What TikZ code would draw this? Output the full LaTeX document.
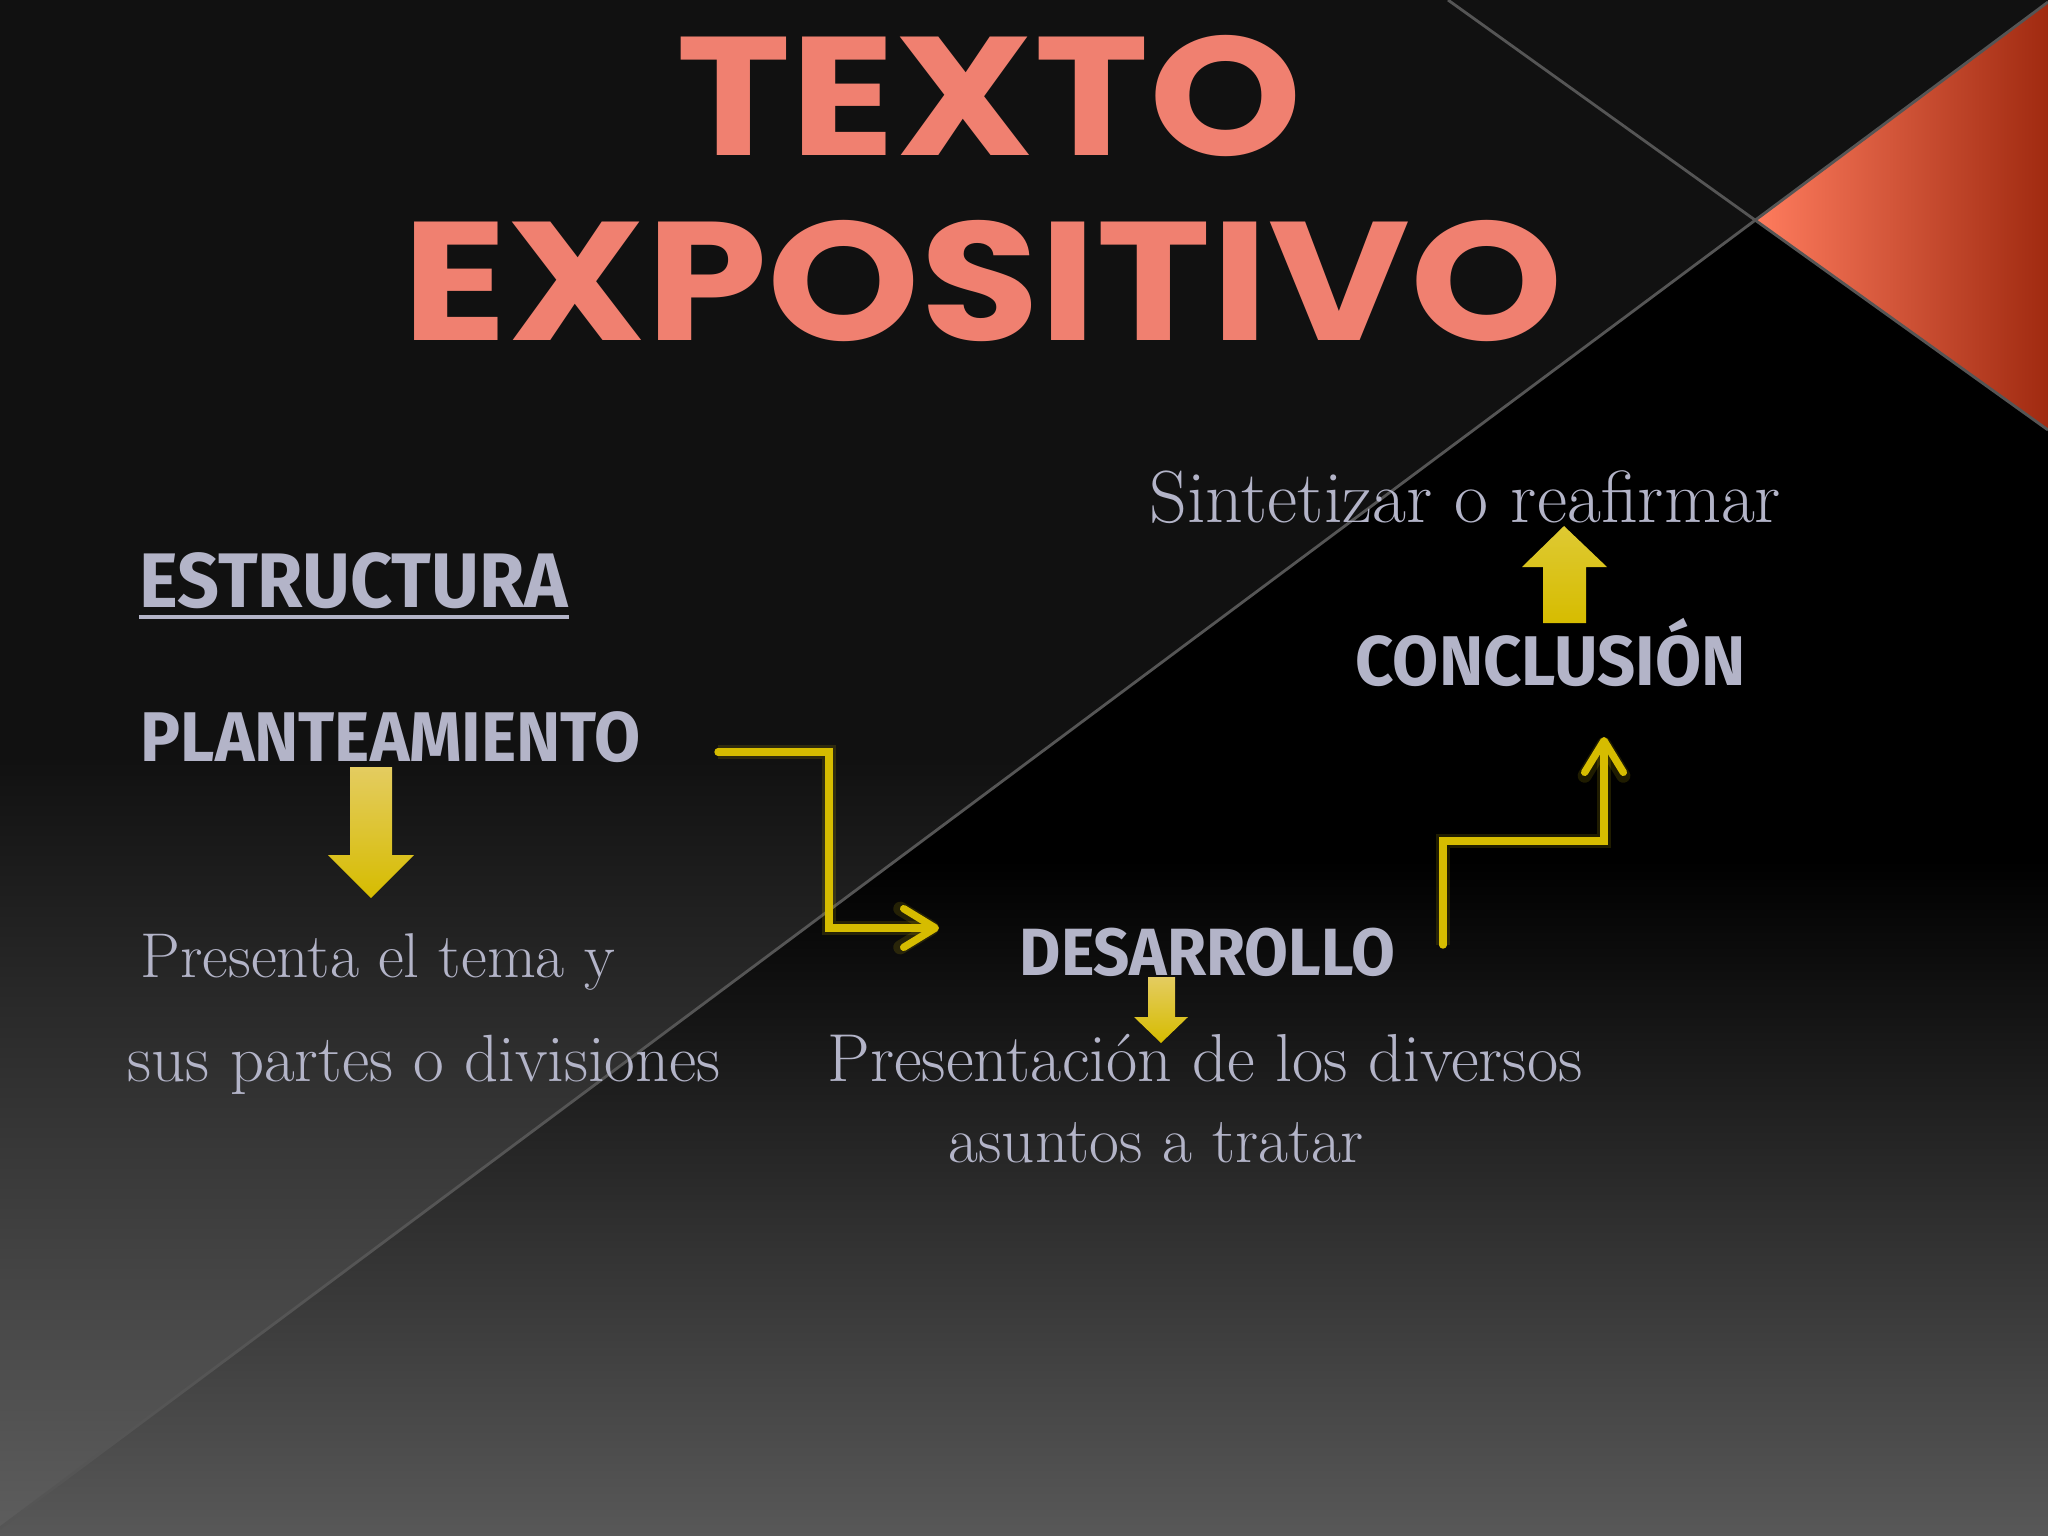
\documentclass[tikz,border=0pt]{standalone}
\usepackage{fontspec}
\usepackage{tikz}
\usetikzlibrary{arrows.meta}
\newfontfamily\titlefont[FakeStretch=1.15]{Poppins}
\newfontfamily\headfont[FakeStretch=0.95]{Fira Sans}
\definecolor{salmon}{HTML}{F08070}
\definecolor{lilac}{HTML}{B3B4C8}
\definecolor{arrowyellow}{HTML}{D6BC00}
\definecolor{paleyellow}{HTML}{E4CC60}
\definecolor{uppergray}{HTML}{111111}
\definecolor{lowgray}{HTML}{5E5E5E}
\definecolor{wedgelow}{HTML}{585858}
\definecolor{seam}{HTML}{555555}
\definecolor{redlight}{HTML}{FF7C5E}
\definecolor{redmid}{HTML}{FF4A1A}
\definecolor{reddark}{HTML}{A02A10}

\begin{document}
\begin{tikzpicture}[x=0.01cm,y=-0.01cm]
 \tikzset{title/.style = {font=\titlefont\bfseries\fontsize{48}{48}\selectfont, text=salmon, inner sep=0, anchor=base}}
 \tikzset{head/.style = {font=\headfont\bfseries\fontsize{#1}{#1}\selectfont, text=lilac, inner sep=0, anchor=base west}, head/.default=20}
 \tikzset{body/.style = {font=\fontsize{#1}{#1}\selectfont, text=lilac, inner sep=0, anchor=base west}, body/.default=18}
 \tikzset{flow/.style = {draw=arrowyellow, line width=2.1pt, line cap=round, -{Straight Barb[length=9pt, width=11pt, round]},
   preaction={draw=arrowyellow, opacity=0.15, line width=4pt}}}
 \tikzset{blockarrow/.style = {top color=paleyellow, bottom color=arrowyellow}}
 \tikzset{seamline/.style = {draw=seam, line width=0.8pt}}
 \useasboundingbox (0,0) rectangle (2048,1536);

 % background
 \fill[uppergray] (0,0) rectangle (2048,1536);
 \fill[top color=uppergray, bottom color=lowgray] (0,760) rectangle (2048,1536);
 \begin{scope}
  \clip (0,1528) -- (1755,220) -- (2048,430) -- (2048,1536) -- (0,1536) -- cycle;
  \fill[black] (0,0) rectangle (2048,1536);
  \fill[top color=black, bottom color=wedgelow] (0,860) rectangle (2048,1536);
 \end{scope}
 \fill[left color=redlight, middle color=redmid, right color=reddark]
   (1755,220) -- (2048,3) -- (2048,430) -- cycle;
 \draw[seamline] (1448,0) -- (2048,430);
 \draw[seamline] (0,1528) -- (2048,2);

 % title
 \node[title] (ttl1) at (989,155) {TEXTO};
 \node[title] (ttl2) at (983,340) {EXPOSITIVO};

 % headings
 \node[head=22] (estr) at (139,607) {ESTRUCTURA};
 \draw[lilac, line width=1.2pt] ([yshift=-0.1cm]estr.base west) -- ([yshift=-0.1cm]estr.base east);
 \node[head] (plan) at (140,761) {PLANTEAMIENTO};
 \node[head=19] (desa) at (1019,975) {DESARROLLO};
 \node[head] (conc) at (1355,685) {CONCLUSIÓN};

 % texts
 \node[body] (plan1) at (140,977) {Presenta el tema y};
 \node[body=19] (plan2) at (127,1081) {sus partes o divisiones};
 \node[body=19.3] (desa1) at (827,1081) {Presentación de los diversos};
 \node[body=18.5] (desa2) at (948,1162) {asuntos a tratar};
 \node[body=21] (conc1) at (1149,522) {Sintetizar o reafirmar};

 % block arrows
 \fill[blockarrow] (350,767) -- (392,767) -- (392,855) -- (414,855) -- (371,898) -- (328,855) -- (350,855) -- cycle;
 \fill[blockarrow] (1148,977) -- (1175,977) -- (1175,1017) -- (1188,1017) -- (1161,1043) -- (1134,1017) -- (1148,1017) -- cycle;
 \fill[top color=arrowyellow!80!white, bottom color=arrowyellow] (1543,623) -- (1586,623) -- (1586,567) -- (1607,567) -- (1564,526) -- (1522,567) -- (1543,567) -- cycle;

 % steps
 \coordinate (planout) at (718,752);
 \coordinate (desin) at (939,928);
 \coordinate (desout) at (1443,945);
 \coordinate (concin) at (1604,737);
 \draw[flow] (planout) -- ++(111,0) |- (desin);
 \draw[flow] (desout) -- ++(0,-104) -| (concin);
\end{tikzpicture}
\end{document}
